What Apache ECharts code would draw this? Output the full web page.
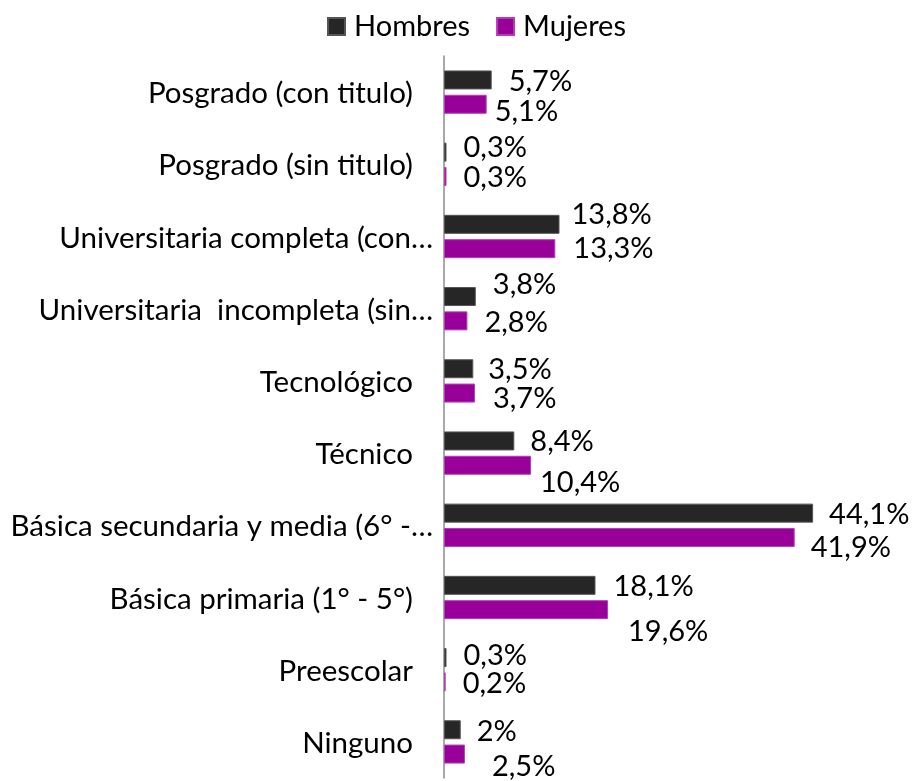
<!DOCTYPE html>
<html>
<head>
<meta charset="utf-8">
<script src="https://cdn.jsdelivr.net/npm/echarts@6/dist/echarts.min.js"></script>
<style>
html,body{margin:0;padding:0;background:#fff;}
#chart{width:913px;height:781px;}
</style>
</head>
<body>
<div id="chart"></div>
<script>
// Data (top to bottom as shown)
const categories = [
  "Posgrado (con titulo)",
  "Posgrado (sin titulo)",
  "Universitaria completa (con…",
  "Universitaria  incompleta (sin…",
  "Tecnológico",
  "Técnico",
  "Básica secundaria y media (6° -…",
  "Básica primaria (1° - 5°)",
  "Preescolar",
  "Ninguno"
];
const seriesNames = ["Hombres", "Mujeres"];
const hombres = [5.7, 0.3, 13.8, 3.8, 3.5, 8.4, 44.1, 18.1, 0.3, 2.0];
const mujeres = [5.1, 0.3, 13.3, 2.8, 3.7, 10.4, 41.9, 19.6, 0.2, 2.5];

// label nudges (style only)
const hOffsets = [[0,2],[0,-4],[-5,-10],[0,-12],[-2,1],[-1,1],[-1,1.5],[1,1],[0,-2],[-1,2]];
const mOffsets = [[-9,7],[0,1],[1,0],[0,2],[1,6],[-8,17],[-1,10],[3,22],[0,2],[10,13]];

const FONT = "Lato";
const FS = 29.5;
const fmt = v => String(v).replace('.', ',') + '%';

function build(values, offsets) {
  return values.map((v, i) => ({
    value: v,
    label: { offset: offsets[i] }
  }));
}

const chart = echarts.init(document.getElementById('chart'), null, {renderer: 'canvas'});
chart.setOption({
  animation: false,
  backgroundColor: '#ffffff',
  textStyle: { fontFamily: FONT },
  legend: {
    data: seriesNames,
    left: 322,
    top: 7,
    itemWidth: 17,
    itemHeight: 17,
    itemGap: 26,
    icon: 'rect',
    textStyle: { fontFamily: FONT, fontSize: 29, color: '#000', padding: [0,0,0,4] }
  },
  grid: { left: 444, top: 56, width: 418.5, height: 722, containLabel: false },
  xAxis: {
    type: 'value', min: 0, max: 50,
    show: false
  },
  yAxis: {
    type: 'category',
    data: categories,
    inverse: true,
    axisLine: { show: true, lineStyle: { color: '#8c8c8c', width: 1.5 } },
    axisTick: { show: false },
    axisLabel: {
      fontFamily: FONT, fontSize: FS, color: '#000', margin: 11,
      formatter: v => v.endsWith('…') ? '{t|' + v + '}' : '{p|' + v + '}',
      rich: {
        t: { fontFamily: FONT, fontSize: FS, color: '#000', padding: [3, 0, 0, 0] },
        p: { fontFamily: FONT, fontSize: FS, color: '#000', padding: [3, 20, 0, 0] }
      }
    }
  },
  series: [
    {
      name: seriesNames[0], type: 'bar',
      data: build(hombres, hOffsets),
      barWidth: 19, barGap: '28%',
      itemStyle: { color: '#262626', borderColor: '#555555', borderWidth: 1 },
      label: { show: true, position: 'right', distance: 17, formatter: p => fmt(p.value),
               fontFamily: FONT, fontSize: 29, color: '#000' }
    },
    {
      name: seriesNames[1], type: 'bar',
      data: build(mujeres, mOffsets),
      barWidth: 19, barGap: '28%',
      itemStyle: { color: '#990099', borderColor: '#b040b0', borderWidth: 1 },
      label: { show: true, position: 'right', distance: 17, formatter: p => fmt(p.value),
               fontFamily: FONT, fontSize: 29, color: '#000' }
    }
  ]
});
</script>
</body>
</html>
